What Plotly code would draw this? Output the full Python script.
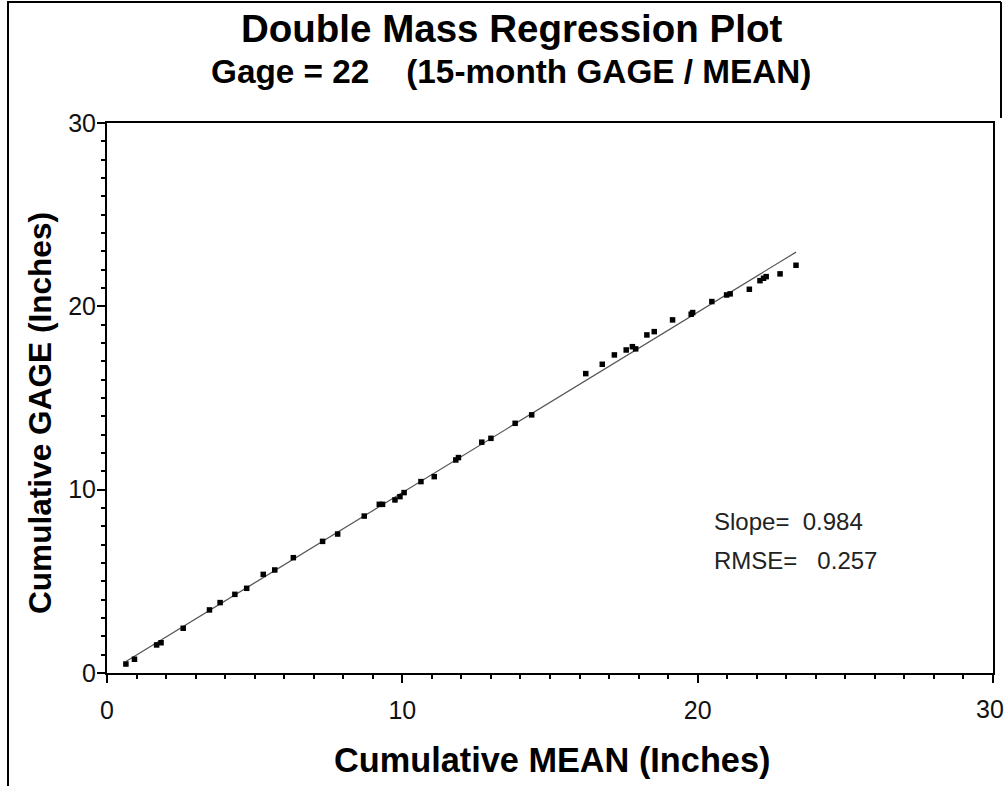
import plotly.graph_objects as go

# ---------------- data ----------------
cum_mean = [0.64, 0.93, 1.68, 1.83, 2.58, 3.47, 3.83, 4.33, 4.73, 5.29, 5.68, 6.31,
            7.30, 7.81, 8.71, 9.22, 9.33, 9.75, 9.92, 10.06, 10.63, 11.08, 11.81, 11.90,
            12.69, 13.00, 13.82, 14.38, 16.21, 16.77, 17.18, 17.58, 17.79, 17.90, 18.28,
            18.53, 19.15, 19.78, 19.83, 20.48, 20.98, 21.10, 21.75, 22.11, 22.23, 22.32,
            22.79, 23.33]
cum_gage = [0.49, 0.75, 1.53, 1.65, 2.44, 3.44, 3.84, 4.29, 4.62, 5.38, 5.62, 6.29,
            7.18, 7.58, 8.56, 9.20, 9.20, 9.44, 9.62, 9.84, 10.44, 10.71, 11.62, 11.75,
            12.59, 12.80, 13.62, 14.08, 16.33, 16.84, 17.35, 17.62, 17.80, 17.68, 18.44,
            18.62, 19.26, 19.57, 19.66, 20.26, 20.62, 20.68, 20.93, 21.40, 21.53, 21.62,
            21.77, 22.24]
slope = 0.984
rmse = 0.257
axis_ticks = [0, 10, 20, 30]
tick_labels = ["0", "10", "20", "30"]

# ---------------- layout constants ----------------
W, H = 1005, 786
ML, MR, MT, MB = 107, 12, 123, 113
PW, PH = W - ML - MR, H - MT - MB
FONT = "Liberation Sans, Arial, sans-serif"
TICKFONT = dict(family=FONT, size=25, color="#111111")


def px_x(p):
    return (p - ML) / PW


def px_y(p):
    return (H - MB - p) / PH


line_x = [min(cum_mean), max(cum_mean)]
line_y = [slope * v for v in line_x]

fig = go.Figure()
fig.add_trace(go.Scatter(x=line_x, y=line_y, mode="lines",
                         line=dict(color="#555555", width=1.2), hoverinfo="skip"))
fig.add_trace(go.Scatter(x=cum_mean, y=cum_gage, mode="markers",
                         marker=dict(symbol="square", size=5.5, color="black",
                                     line=dict(width=0))))

axis_common = dict(
    range=[0, 30], tickvals=axis_ticks, ticks="outside", ticklen=8, tickwidth=2,
    tickcolor="black", showline=True, linewidth=2, linecolor="black", mirror=True,
    showgrid=False, zeroline=False, tickfont=TICKFONT,
    minor=dict(dtick=1, ticks="outside", ticklen=4, tickwidth=1.5, tickcolor="black",
               showgrid=False),
)
# the last x label is clipped by the page edge in the original; draw it as an annotation
fig.update_xaxes(**axis_common, ticktext=tick_labels[:-1] + [""], ticklabelstandoff=6)
fig.update_yaxes(**axis_common, ticktext=tick_labels, ticklabelstandoff=-4)

ann = [
    dict(text="<b>Double Mass Regression Plot</b>", x=px_x(511), y=px_y(28),
         font=dict(size=38.5, family=FONT, color="black")),
    dict(text="<b>Gage = 22&nbsp;&nbsp;&nbsp;&nbsp;(15-month GAGE / MEAN)</b>",
         x=px_x(511), y=px_y(72), font=dict(size=33.3, family=FONT, color="black")),
    dict(text="<b>Cumulative MEAN (Inches)</b>", x=px_x(552), y=px_y(760),
         font=dict(size=34.3, family=FONT, color="black")),
    dict(text="<b>Cumulative GAGE (Inches)</b>", x=px_x(40), y=px_y(413), textangle=-90,
         font=dict(size=31.6, family=FONT, color="black")),
    dict(text=tick_labels[-1], x=px_x(1006), y=px_y(709), xanchor="right",
         font=TICKFONT),
]
for a in ann:
    a.setdefault("xanchor", "center")
    a.update(xref="paper", yref="paper", yanchor="middle", showarrow=False)
    fig.add_annotation(**a)

fig.add_annotation(text=f"Slope=&nbsp;&nbsp;{slope:.3f}", x=20.49, y=8.29, xref="x", yref="y",
                   xanchor="left", yanchor="middle", showarrow=False,
                   font=dict(size=24, family=FONT, color="#222222"))
fig.add_annotation(text=f"RMSE=&nbsp;&nbsp;&nbsp;{rmse:.3f}", x=20.49, y=6.16, xref="x", yref="y",
                   xanchor="left", yanchor="middle", showarrow=False,
                   font=dict(size=24, family=FONT, color="#222222"))

# outer frame
frame = dict(type="line", xref="paper", yref="paper", line=dict(color="black", width=2))
fig.add_shape(**frame, x0=px_x(8), x1=px_x(8), y0=px_y(1), y1=px_y(786))
fig.add_shape(**frame, x0=px_x(8), x1=px_x(1001), y0=px_y(2), y1=px_y(2))
fig.add_shape(**frame, x0=px_x(1001), x1=px_x(1001), y0=px_y(2), y1=px_y(118))

fig.update_layout(
    width=W, height=H, margin=dict(l=ML, r=MR, t=MT, b=MB, autoexpand=False),
    paper_bgcolor="white", plot_bgcolor="white", showlegend=False,
    font=dict(family=FONT, color="black"),
)

fig.write_html("out.html")
